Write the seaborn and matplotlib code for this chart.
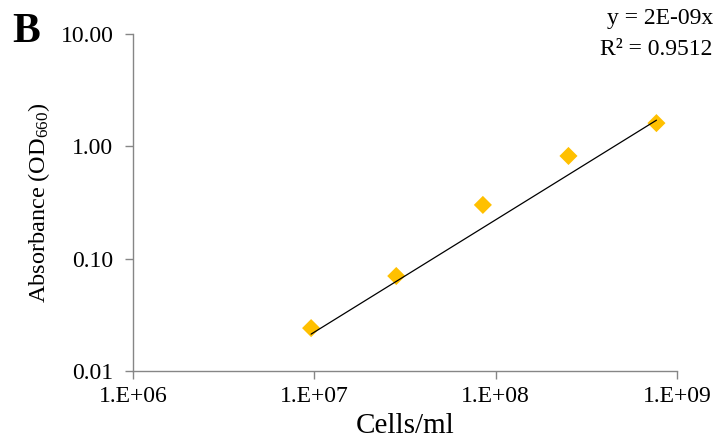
import numpy as np
import matplotlib
matplotlib.use("Agg")
import matplotlib.pyplot as plt
import seaborn as sns
import pandas as pd

# Cell density vs. optical density
cells_per_ml = [0.96e7, 2.83e7, 8.5e7, 2.52e8, 7.7e8]
absorbance = [0.0241, 0.0701, 0.301, 0.821, 1.61]

x_ticks = [1e6, 1e7, 1e8, 1e9]
x_tick_labels = ["1.E+06", "1.E+07", "1.E+08", "1.E+09"]
y_ticks = [0.01, 0.1, 1.0, 10.0]
y_tick_labels = ["0.01", "0.10", "1.00", "10.00"]

equation_text = "y = 2E-09x"
r2_text = "R\u00b2 = 0.9512"

sns.set_theme(style="ticks")
plt.rcParams["font.family"] = ["Liberation Serif", "DejaVu Serif"]
plt.rcParams["mathtext.fontset"] = "custom"
plt.rcParams["mathtext.rm"] = "Liberation Serif"
plt.rcParams["mathtext.it"] = "Liberation Serif:italic"
plt.rcParams["text.color"] = "black"
plt.rcParams["axes.labelcolor"] = "black"

df = pd.DataFrame({"cells": cells_per_ml, "od": absorbance})

# Linear fit through the origin (y = a*x)
x = np.array(cells_per_ml)
y = np.array(absorbance)
slope = np.sum(x * y) / np.sum(x * x)
trend = pd.DataFrame({"cells": [x.min(), x.max()],
                      "od": [slope * x.min(), slope * x.max()]})

fig = plt.figure(figsize=(7.2, 4.41), dpi=100)
ax = fig.add_axes([0.1847, 0.1587, 0.7556, 0.7642])

sns.scatterplot(data=df, x="cells", y="od", marker="D", s=85,
                color="#FFC000", edgecolor="none", ax=ax, zorder=2)
sns.lineplot(data=trend, x="cells", y="od", color="black", linewidth=0.9,
             ax=ax, zorder=3)

ax.set_xscale("log")
ax.set_yscale("log")
ax.set_xlim(1e6, 1e9)
ax.set_ylim(0.01, 10)
ax.set_xticks(x_ticks)
ax.set_xticklabels(x_tick_labels)
ax.set_yticks(y_ticks)
ax.set_yticklabels(y_tick_labels)
ax.minorticks_off()

for side in ("top", "right"):
    ax.spines[side].set_visible(False)
for side in ("left", "bottom"):
    ax.spines[side].set_color("#868686")
    ax.spines[side].set_linewidth(1.0)

ax.tick_params(axis="both", which="major", length=6, width=1.0,
               color="#868686", labelsize=17, labelcolor="black")
ax.tick_params(axis="x", pad=5)
ax.tick_params(axis="y", pad=8)

ax.set_xlabel("Cells/ml", fontsize=21, labelpad=4)
ax.set_ylabel("Absorbance (OD$_{660}$)", fontsize=17.5, labelpad=6)

fig.text(0.017, 0.905, "B", fontsize=30, fontweight="bold", ha="left",
         va="baseline")
fig.text(0.99, 0.945, equation_text, fontsize=17, ha="right", va="baseline")
fig.text(0.99, 0.875, r2_text, fontsize=17, ha="right", va="baseline")

fig.savefig("out.png", dpi=100)
